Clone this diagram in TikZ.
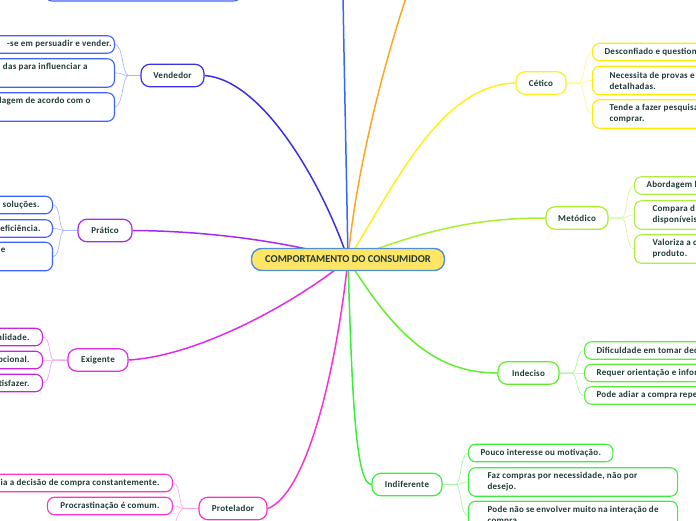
\documentclass[tikz,border=0pt]{standalone}
\usepackage{fontspec}
\setmainfont{Carlito}
\newfontfamily\lsfont{Carlito}[LetterSpace=3.0]
\usetikzlibrary{backgrounds}
\definecolor{txt}{HTML}{1F3A35}
\definecolor{rooty}{HTML}{FFE566}
\definecolor{rootb}{HTML}{4E8FD6}
\definecolor{vendc}{HTML}{3B2FE6}
\definecolor{vleaf}{HTML}{3D63FF}
\definecolor{vsub}{HTML}{A9B8FF}
\definecolor{topl}{HTML}{3366FF}
\definecolor{orangel}{HTML}{FFA61F}
\definecolor{pratc}{HTML}{A52BF0}
\definecolor{exigc}{HTML}{E02BEA}
\definecolor{eleaf}{HTML}{CC22DD}
\definecolor{esub}{HTML}{F0A8F0}
\definecolor{protc}{HTML}{FF2ECF}
\definecolor{prleaf}{HTML}{FF33CC}
\definecolor{prsub}{HTML}{FFA8E8}
\definecolor{cetc}{HTML}{FFEF1F}
\definecolor{cleaf}{HTML}{FFEA00}
\definecolor{csub}{HTML}{FFF59A}
\definecolor{metc}{HTML}{A8F02A}
\definecolor{mleaf}{HTML}{ADEE40}
\definecolor{msub}{HTML}{D6F7A0}
\definecolor{indcc}{HTML}{60EE2E}
\definecolor{ileaf}{HTML}{5CEE3A}
\definecolor{isub}{HTML}{B0F5A0}
\definecolor{indfc}{HTML}{3BEE3B}
\definecolor{fsub}{HTML}{A8F5A8}
\begin{document}
\begin{tikzpicture}[x=1pt,y=-1pt,
  every node/.style={font=\lsfont\bfseries\fontsize{9}{11}\selectfont, text=txt},
  rootnode/.style={draw=rootb, fill=rooty, line width=1.4pt, rounded corners=10pt,
    minimum width=193pt, minimum height=22pt, font=\rmfamily\bfseries\fontsize{10.5}{12}\selectfont},
  topic/.style={draw, rounded corners=9pt, line width=1.2pt, fill=white, minimum height=22.5pt, inner xsep=4pt},
  leaf/.style={draw, rounded corners=7pt, line width=1.1pt, fill=white, minimum height=17.5pt, inner ysep=2pt},
  two/.style={minimum height=28.5pt},
  lft/.style={anchor=east, text width=220pt, align=flush right, inner xsep=0pt},
  rgt/.style={anchor=west, text width=220pt, align=flush left},
  branch/.style={line width=1.5pt},
  sub/.style={line width=0.7pt}
]
\useasboundingbox (0,0) rectangle (696,520);

% root
\node[rootnode] (root) at (348,259.5) {COMPORTAMENTO DO CONSUMIDOR};

% top partial leaf and free ends
\node[leaf, draw=vleaf, minimum width=196pt, minimum height=28pt, anchor=south] (topleaf) at (143,1.5) {};
\coordinate (topend) at (343,-5);
\coordinate (orend) at (407,-5);

% Vendedor
\node[topic, draw=vendc, minimum width=63pt] (vend) at (172.5,75.5) {Vendedor};
\node[leaf, lft, draw=vleaf] (v1) at (115,44.5) {-se em persuadir e vender.\kern3pt};
\node[leaf, lft, two, draw=vleaf] (v2) at (115,73) {das para influenciar a\kern27pt\\\phantom{g}};
\node[leaf, lft, two, draw=vleaf] (v3) at (115,107) {lagem de acordo com o\kern24pt\\\phantom{g}};

% Pratico
\node[topic, draw=pratc, minimum width=54pt] (prat) at (105,230.5) {Prático};
\node[leaf, lft, draw=vleaf] (p1) at (53,205) {a soluções.\kern13pt};
\node[leaf, lft, draw=vleaf] (p2) at (53,228.5) {eficiência.\kern12pt};
\node[leaf, lft, two, draw=vleaf] (p3) at (53,256.5) {e\kern47pt\\\phantom{g}};

% Exigente
\node[topic, draw=exigc, minimum width=60pt] (exig) at (98,360) {Exigente};
\node[leaf, lft, draw=eleaf] (e1) at (43,337) {alidade.\kern13pt};
\node[leaf, lft, draw=eleaf] (e2) at (43,360) {pcional.\kern13pt};
\node[leaf, lft, draw=eleaf] (e3) at (43,383) {tisfazer.\kern13pt};

% Protelador
\node[topic, draw=protc, minimum width=68pt] (prot) at (233,508.5) {Protelador};
\node[leaf, lft, draw=prleaf] (r1) at (173,483) {ia a decisão de compra constantemente.\kern13pt};
\node[leaf, draw=prleaf, anchor=east, minimum width=125pt] (r2) at (173,506) {Procrastinação é comum.};
\coordinate (r3) at (173,532);

% Cetico
\node[topic, draw=cetc, minimum width=50pt] (cet) at (541,83) {Cético};
\node[leaf, rgt, draw=cleaf, inner xsep=12pt] (c1) at (592,52) {Desconfiado e question};
\node[leaf, rgt, two, draw=cleaf, inner xsep=17pt] (c2) at (592,80.5) {Necessita de provas e\\detalhadas.};
\node[leaf, rgt, two, draw=cleaf, inner xsep=17pt] (c3) at (592,114) {Tende a fazer pesquisa\\comprar.};

% Metodico
\node[topic, draw=metc, minimum width=62pt] (met) at (577,218) {Metódico};
\node[leaf, rgt, draw=mleaf, inner xsep=12pt] (m1) at (634,185.5) {Abordagem l};
\node[leaf, rgt, two, draw=mleaf, inner xsep=18pt] (m2) at (634,215) {Compara d\\disponíveis};
\node[leaf, rgt, two, draw=mleaf, inner xsep=18pt] (m3) at (634,249) {Valoriza a c\\produto.};

% Indeciso
\node[topic, draw=indcc, minimum width=61pt] (indc) at (528.5,373) {Indeciso};
\node[leaf, rgt, draw=ileaf, inner xsep=12pt] (i1) at (584,350.5) {Dificuldade em tomar dec};
\node[leaf, rgt, draw=ileaf, inner xsep=12pt] (i2) at (584,373) {Requer orientação e infor};
\node[leaf, rgt, draw=ileaf, inner xsep=12pt] (i3) at (584,395.5) {Pode adiar a compra repe};

% Indiferente
\node[topic, draw=indfc, minimum width=70pt] (indf) at (407,484.5) {Indiferente};
\node[leaf, draw=indfc, anchor=west, inner xsep=12pt] (f1) at (468,453) {Pouco interesse ou motivação.};
\node[leaf, two, draw=indfc, anchor=west, inner xsep=19pt, text width=171pt, align=flush left] (f2) at (468,482) {Faz compras por necessidade, não por\\desejo.};
\node[leaf, two, draw=indfc, anchor=west, inner xsep=19pt, text width=171pt, align=flush left] (f3) at (468,515.5) {Pode não se envolver muito na interação de\\compra.};

\begin{scope}[on background layer]
% main branches
\draw[branch, vendc] (root.center) .. controls (325,190) and (265,80) .. (vend.east);
\draw[branch, topl] (root.center) .. controls (346,150) and (344,60) .. (topend);
\draw[branch, orangel] (root.center) .. controls (356,170) and (385,60) .. (orend);
\draw[branch, cetc] (root.center) .. controls (395,185) and (440,85) .. (cet.west);
\draw[branch, metc] (root.center) .. controls (430,228) and (480,218) .. (met.west);
\draw[branch, pratc] (prat.east) .. controls (220,231) and (300,245) .. (root.center);
\draw[branch, exigc] (exig.east) .. controls (200,356) and (300,300) .. (root.center);
\draw[branch, protc] (root.center) .. controls (335,380) and (305,495) .. (prot.east);
\draw[branch, indfc] (root.center) .. controls (352,400) and (356,484) .. (indf.west);
\draw[branch, indcc] (root.center) .. controls (395,335) and (435,373) .. (indc.west);

% leaf connectors
\foreach \l in {v1,v2,v3}
  \draw[sub, vsub] (vend.west) -- ++(-12,0) .. controls +(-6,0) and +(8,0) .. (\l.east);
\foreach \l in {p1,p2,p3}
  \draw[sub, vsub] (prat.west) -- ++(-13,0) .. controls +(-6,0) and +(8,0) .. (\l.east);
\foreach \l in {e1,e2,e3}
  \draw[sub, esub] (exig.west) -- ++(-13,0) .. controls +(-6,0) and +(8,0) .. (\l.east);
\foreach \l in {r1,r2}
  \draw[sub, prsub] (prot.west) -- ++(-14,0) .. controls +(-6,0) and +(8,0) .. (\l.east);
\draw[sub, prsub] (prot.west) -- ++(-14,0) .. controls +(-6,0) and +(2,-8) .. (r3);
\foreach \l in {c1,c2,c3}
  \draw[sub, csub] (cet.east) -- ++(12,0) .. controls +(6,0) and +(-8,0) .. (\l.west);
\foreach \l in {m1,m2,m3}
  \draw[sub, msub] (met.east) -- ++(13,0) .. controls +(6,0) and +(-8,0) .. (\l.west);
\foreach \l in {i1,i2,i3}
  \draw[sub, isub] (indc.east) -- ++(12,0) .. controls +(6,0) and +(-8,0) .. (\l.west);
\foreach \l in {f1,f2,f3}
  \draw[sub, fsub] (indf.east) -- ++(13,0) .. controls +(6,0) and +(-8,0) .. (\l.west);
\end{scope}
\end{tikzpicture}
\end{document}
